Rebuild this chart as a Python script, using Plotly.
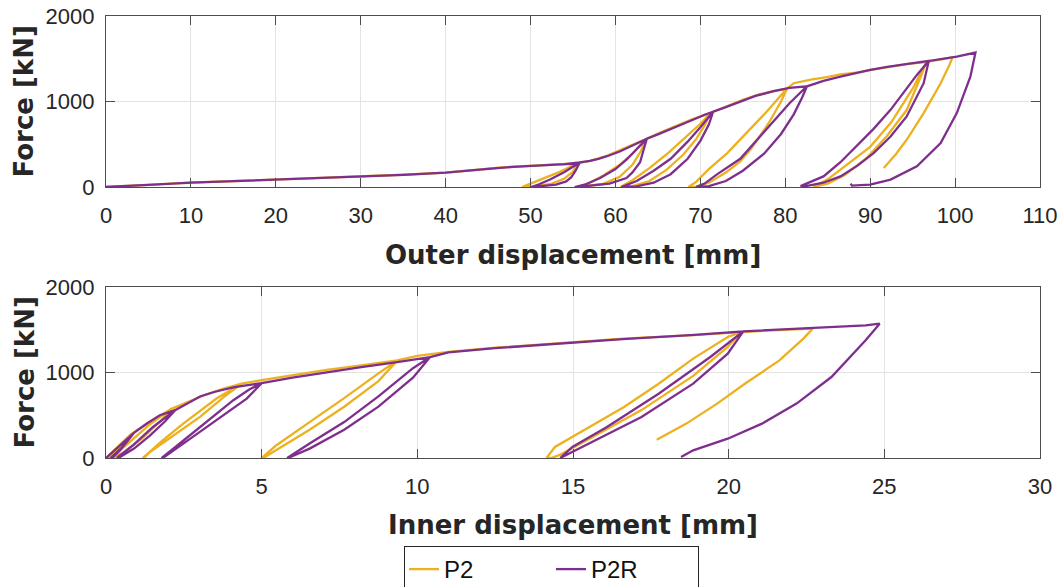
import plotly.graph_objects as go

# ---------------- data ----------------
# Outer displacement [mm] vs force [kN], specimen P2
outer_p2_x = [0, 2, 5, 10, 15, 20, 25, 30, 35, 40, 42, 44, 46, 48, 50, 52, 54, 55.5,
              55, 54, 52.5, 50.5, 49.2, 49, 50, 51.5, 53.5, 55.5,
              57, 59, 60.5, 62, 63.5,
              63, 62, 60.5, 58.5, 56.5, 55.7, 55.5, 57, 58.5, 60.5, 62, 63.5,
              65, 67, 69, 71.2,
              70.5, 69.5, 68, 66, 64, 62, 60.8, 60.6, 62, 64, 66, 68, 70, 71.2,
              73, 75, 77, 79, 80.2,
              79.5, 78, 76, 74.7, 73, 71, 69.5, 69, 68.6, 69.5, 71, 73.2, 75.5, 77.8, 80.2,
              81, 83, 84.9, 86.5, 88.6, 90.5, 92.5, 94.5, 96.6,
              96, 94.3, 92, 89.5, 87, 85, 83.5, 83.3, 85, 87.5, 90, 92.5, 95, 96.6,
              98, 99.7,
              99.3, 98.3, 96.3, 94.3, 93, 91.6]
outer_p2_y = [0, 8, 26, 51, 69, 86, 103, 121, 143, 168, 183, 202, 222, 238, 248, 258, 266, 275,
              180, 100, 40, 8, 0, 0, 40, 100, 180, 275,
              305, 365, 425, 492, 555,
              420, 260, 120, 35, 5, 0, 0, 50, 130, 260, 390, 555,
              625, 705, 790, 865,
              720, 560, 380, 200, 70, 10, 0, 0, 80, 220, 380, 560, 740, 865,
              940, 1020, 1085, 1130, 1150,
              1000, 740, 450, 300, 170, 50, 5, 0, 0, 60, 210, 400, 640, 880, 1150,
              1214, 1255, 1284, 1318, 1340, 1375, 1410, 1440, 1462,
              1300, 900, 600, 330, 140, 40, 0, 0, 90, 280, 470, 760, 1150, 1462,
              1490, 1517,
              1420, 1214, 864, 552, 380, 222]

# Outer displacement [mm] vs force [kN], specimen P2R
outer_p2r_x = [0, 2, 5, 10, 15, 20, 25, 30, 35, 40, 42, 44, 46, 48, 50, 52, 54, 55.8,
               55.3, 54.8, 54.2, 53, 51.5, 50.3, 50.1, 51, 52.3, 54, 55.8,
               57, 58, 59, 60.5, 61.5, 62.5, 63.7,
               63.3, 62.9, 62, 61.3, 59.3, 57, 55.5, 55.2, 56.5, 58.2, 60, 61.3, 62.9, 63.7,
               65, 66, 67.5, 69.2, 70.5, 71.5,
               71, 70, 68.5, 66.5, 64.5, 62.5, 61, 60.7, 62.5, 64.5, 66.5, 68.5, 70, 71.5,
               73, 74.7, 76.5, 78.6, 80.5, 82.55,
               82, 81, 79.5, 77.5, 75, 73, 71, 70, 69.5, 70.5, 72, 74.7, 77.5, 80.5, 82.55,
               84.5, 86.5, 88.5, 90, 92, 93.5, 95.3, 96.9,
               96.3, 94.3, 92.4, 90.4, 88.5, 86.5, 84.5, 83.3, 82.3, 81.8,
               84.5, 86.5, 88.4, 90.4, 92.4, 94, 95.5, 96.9,
               98.5, 100.2, 102.4,
               101.8, 100.2, 98.3, 95.5, 92.4, 90, 87.85, 87.7]
outer_p2r_y = [0, 8, 25, 50, 68, 85, 102, 120, 142, 167, 182, 200, 220, 236, 245, 255, 268, 287,
               190, 115, 65, 28, 8, 0, 0, 32, 88, 175, 287,
               305, 330, 360, 415, 460, 510, 565,
               430, 290, 170, 105, 40, 12, 0, 0, 32, 105, 210, 319, 475, 565,
               615, 655, 715, 790, 845, 880,
               730, 540, 330, 150, 50, 8, 0, 0, 70, 190, 330, 530, 700, 880,
               935, 1000, 1065, 1120, 1160, 1178,
               1050, 850, 620, 390, 190, 70, 10, 0, 0, 40, 150, 330, 650, 980, 1178,
               1240, 1291, 1340, 1369, 1405, 1428, 1452, 1474,
               1214, 825, 590, 397, 250, 124, 50, 23, 8, 10,
               124, 290, 475, 680, 902, 1110, 1311, 1474,
               1500, 1525, 1572,
               1291, 864, 513, 241, 86, 27, 16, 39]

# Inner displacement [mm] vs force [kN], specimen P2
inner_p2_x = [0, 0.46, 0.8, 0.6, 0.3, 0.05, 0.03, 0.4, 0.8,
              1.02, 1.57, 2.1, 1.8, 1.2, 0.6, 0.2, 0.18, 0.8, 1.4, 2.1,
              2.67, 3.23, 3.78, 4.36,
              3.78, 3.02, 1.95, 1.41, 1.22, 1.18, 1.8, 2.48, 3.55, 4.36,
              5, 5.99, 7.09, 8.2, 9.36,
              8.75, 7.65, 6.54, 5.44, 5.05, 5.0, 5.44, 6.54, 7.65, 8.75, 9.36,
              10, 11, 12.5, 14.4, 16.6, 18.9, 20.4,
              19.97, 18.86, 17.2, 15.53, 14.6, 14.3, 14.15, 14.42, 15.53, 16.64, 17.75, 18.86, 19.97, 20.4,
              21, 22, 22.7,
              22.4, 21.63, 20.52, 19.63, 18.64, 17.69]
inner_p2_y = [0, 168, 280, 180, 60, 0, 0, 140, 280,
              330, 460, 575, 450, 240, 70, 0, 0, 200, 390, 575,
              663, 745, 812, 871,
              713, 480, 207, 70, 0, 0, 200, 402, 695, 871,
              910, 967, 1030, 1084, 1142,
              900, 600, 330, 80, 0, 0, 140, 420, 700, 990, 1142,
              1195, 1242, 1290, 1342, 1396, 1438, 1472,
              1300, 960, 560, 230, 40, 0, 0, 129, 363, 597, 869, 1162, 1415, 1472,
              1485, 1500, 1513,
              1396, 1142, 869, 636, 402, 214]

# Inner displacement [mm] vs force [kN], specimen P2R
inner_p2r_x = [0, 0.3, 0.6, 0.9, 0.7, 0.45, 0.2, 0.15, 0.5, 0.9,
               1.3, 1.73, 2.22, 1.9, 1.4, 0.9, 0.4, 0.35, 0.9, 1.5, 2.22,
               2.6, 3.02, 3.5, 4.09, 4.5, 5.0,
               4.52, 3.55, 2.48, 1.95, 1.82, 1.79, 2.2, 3.02, 4.09, 4.6, 5.0,
               5.99, 7.09, 8.2, 9.3, 10.41,
               9.86, 8.75, 7.65, 6.54, 5.85, 5.82, 6.54, 7.65, 8.75, 9.86, 10.41,
               11, 12.5, 14.4, 16.6, 18.9, 20.47,
               19.97, 18.86, 17.2, 15.53, 14.76, 14.6, 14.59, 14.98, 16.09, 17.75, 19.41, 20.47,
               21.1, 22.7, 24.4, 24.85,
               24.4, 23.3, 22.18, 21.07, 19.97, 18.86, 18.47]
inner_p2r_y = [0, 100, 200, 295, 200, 90, 0, 0, 120, 295,
               400, 500, 560, 430, 260, 110, 0, 0, 160, 360, 560,
               640, 720, 775, 825, 850, 875,
               695, 441, 168, 31, 0, 0, 120, 363, 676, 800, 875,
               940, 1006, 1064, 1118, 1181,
               940, 600, 330, 110, 0, 0, 170, 420, 720, 1050, 1181,
               1235, 1285, 1335, 1390, 1440, 1481,
               1220, 869, 480, 168, 31, 0, 0, 129, 363, 752, 1181, 1481,
               1493, 1524, 1552, 1571,
               1376, 947, 636, 402, 226, 90, 12]

series_names = ["P2", "P2R"]
outer_ticks = list(range(0, 111, 10))
inner_ticks = list(range(0, 31, 5))
force_ticks = [0, 1000, 2000]

# ---------------- styling ----------------
YELLOW = "#EDB120"
PURPLE = "#7E2F8E"
INK = "#262626"
LW = 2.3

fig = go.Figure()
fig.add_trace(go.Scatter(x=outer_p2_x, y=outer_p2_y, mode="lines", name=series_names[0],
                         legendgroup="p2", line=dict(color=YELLOW, width=LW),
                         xaxis="x", yaxis="y"))
fig.add_trace(go.Scatter(x=outer_p2r_x, y=outer_p2r_y, mode="lines", name=series_names[1],
                         legendgroup="p2r", line=dict(color=PURPLE, width=LW),
                         xaxis="x", yaxis="y"))
fig.add_trace(go.Scatter(x=inner_p2_x, y=inner_p2_y, mode="lines", name=series_names[0],
                         legendgroup="p2", showlegend=False, line=dict(color=YELLOW, width=LW),
                         xaxis="x2", yaxis="y2"))
fig.add_trace(go.Scatter(x=inner_p2r_x, y=inner_p2r_y, mode="lines", name=series_names[1],
                         legendgroup="p2r", showlegend=False, line=dict(color=PURPLE, width=LW),
                         xaxis="x2", yaxis="y2"))

W, H = 1062, 587
ML, MR, MT, MB = 106, 22, 16, 129
PH = H - MT - MB
PW = W - ML - MR


def py2paper(py):
    return (H - MB - py) / PH


def px2paper(px):
    return (px - ML) / PW


tick_font = dict(family="Liberation Sans, Arial, sans-serif", size=22, color=INK)
axis_common = dict(showline=True, linecolor="#4d4d4d", linewidth=1.3, mirror="ticks",
                   ticks="inside", ticklen=9, tickwidth=1.3, tickcolor="#4d4d4d",
                   showgrid=True, gridcolor="#e3e3e3", gridwidth=1, zeroline=False,
                   tickfont=tick_font)

fig.update_layout(
    width=W, height=H,
    margin=dict(l=ML, r=MR, t=MT, b=MB, autoexpand=False),
    paper_bgcolor="white", plot_bgcolor="white",
    xaxis=dict(domain=[0, 1], anchor="y", range=[0, 110], tickvals=outer_ticks,
               ticklabelstandoff=8, **axis_common),
    yaxis=dict(domain=[py2paper(187), 1], anchor="x", range=[0, 2000], tickvals=force_ticks,
               ticklabelstandoff=6, **axis_common),
    xaxis2=dict(domain=[0, 1], anchor="y2", range=[0, 30], tickvals=inner_ticks,
                ticklabelstandoff=8, **axis_common),
    yaxis2=dict(domain=[0, py2paper(287)], anchor="x2", range=[0, 2000], tickvals=force_ticks,
                ticklabelstandoff=6, **axis_common),
    legend=dict(orientation="h", x=px2paper(551.5), xanchor="center",
                y=py2paper(546), yanchor="top",
                bordercolor=INK, borderwidth=1, bgcolor="white",
                font=dict(family="Liberation Sans, Arial, sans-serif", size=24, color="#111111"),
                entrywidth=102, entrywidthmode="pixels"),
    showlegend=True,
)

title_font = dict(family="DejaVu Sans, Verdana, sans-serif", size=26, color=INK)
annos = [
    dict(text="<b>Outer displacement [mm]</b>", x=0.5, y=py2paper(255)),
    dict(text="<b>Inner displacement [mm]</b>", x=0.5, y=py2paper(525)),
]
for a in annos:
    fig.add_annotation(xref="paper", yref="paper", xanchor="center", yanchor="middle",
                       showarrow=False, font=title_font, **a)
for yc in [py2paper((16 + 187) / 2), py2paper((287 + 458) / 2)]:
    fig.add_annotation(text="<b>Force [kN]</b>", xref="paper", yref="paper",
                       x=px2paper(24), y=yc, xanchor="center", yanchor="middle",
                       textangle=-90, showarrow=False, font=title_font)

fig.write_html("out.html")
